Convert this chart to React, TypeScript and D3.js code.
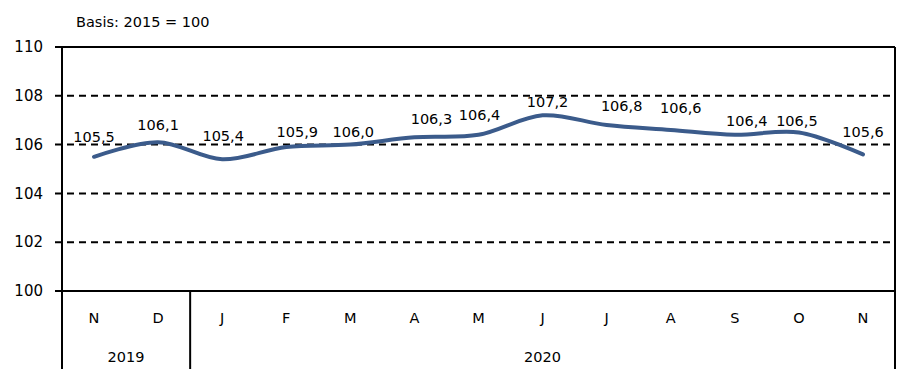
import React from "react";
import * as d3 from "d3";

const months = ["N", "D", "J", "F", "M", "A", "M", "J", "J", "A", "S", "O", "N"];
const values = [105.5, 106.1, 105.4, 105.9, 106.0, 106.3, 106.4, 107.2, 106.8, 106.6, 106.4, 106.5, 105.6];
const years = [
  { label: "2019", from: 0, to: 2 },
  { label: "2020", from: 2, to: 13 },
];
const yTicks = [100, 102, 104, 106, 108, 110];

// hand-placed label nudges (px), like the original chart
const labelDx = [0, 0, 1, 11, 3, 17, 1, 5, 15, 10, 12, -2, 0];
const labelDy = [-15, -12, -18, -10, -8, -13, -15, -8, -14, -17, -9, -6, -17];

const width = 909;
const height = 369;
const margin = { top: 47, right: 14, bottom: 78, left: 62 };
const font = "'DejaVu Sans', Verdana, sans-serif";

const App: React.FC = () => {
  const x = d3
    .scaleBand<number>()
    .domain(d3.range(months.length))
    .range([margin.left, width - margin.right]);

  const y = d3
    .scaleLinear()
    .domain([100, 110])
    .range([height - margin.bottom, margin.top]);

  const cx = (i: number) => (x(i) as number) + x.bandwidth() / 2;

  const line = d3
    .line<number>()
    .x((_, i) => cx(i))
    .y((d) => y(d))
    .curve(d3.curveCatmullRom.alpha(0.5));

  const x0 = margin.left;
  const x1 = width - margin.right;
  const base = y(100);

  return (
    <svg
      width={width}
      height={height}
      style={{ position: "absolute", left: 0, top: 0, background: "#fff" }}
      fontFamily={font}
    >
      <text x={76} y={27} fontSize={14.5} fill="#000">
        Basis: 2015 = 100
      </text>

      {/* gridlines */}
      {yTicks.map((t) => (
        <g key={t}>
          <line
            x1={x0 - 7}
            x2={x1}
            y1={y(t)}
            y2={y(t)}
            stroke="#000"
            strokeWidth={2}
            strokeDasharray={t === 100 || t === 110 ? undefined : "7,5"}
          />
          <text x={43} y={y(t)} dy="0.35em" textAnchor="end" fontSize={15}>
            {t}
          </text>
        </g>
      ))}

      {/* frame */}
      <line x1={x0} x2={x0} y1={margin.top} y2={height} stroke="#000" strokeWidth={2} />
      <line x1={x1} x2={x1} y1={margin.top} y2={height} stroke="#000" strokeWidth={2} />
      {years.slice(1).map((yr) => (
        <line
          key={yr.label}
          x1={x(yr.from) as number}
          x2={x(yr.from) as number}
          y1={base}
          y2={height}
          stroke="#000"
          strokeWidth={2}
        />
      ))}

      {/* month labels */}
      {months.map((m, i) => (
        <text key={i} x={cx(i)} y={base + 32} textAnchor="middle" fontSize={14.5}>
          {m}
        </text>
      ))}

      {/* year labels */}
      {years.map((yr) => {
        const a = x(yr.from) as number;
        const b = yr.to >= months.length ? x1 : (x(yr.to) as number);
        return (
          <text key={yr.label} x={(a + b) / 2} y={base + 71} textAnchor="middle" fontSize={14.5}>
            {yr.label}
          </text>
        );
      })}

      <path d={line(values) ?? ""} fill="none" stroke="#3b5b8b" strokeWidth={4} strokeLinecap="round" />

      {values.map((v, i) => (
        <text
          key={i}
          x={cx(i) + labelDx[i]}
          y={y(v) + labelDy[i]}
          textAnchor="middle"
          fontSize={14.5}
        >
          {v.toFixed(1).replace(".", ",")}
        </text>
      ))}
    </svg>
  );
};

export default App;
